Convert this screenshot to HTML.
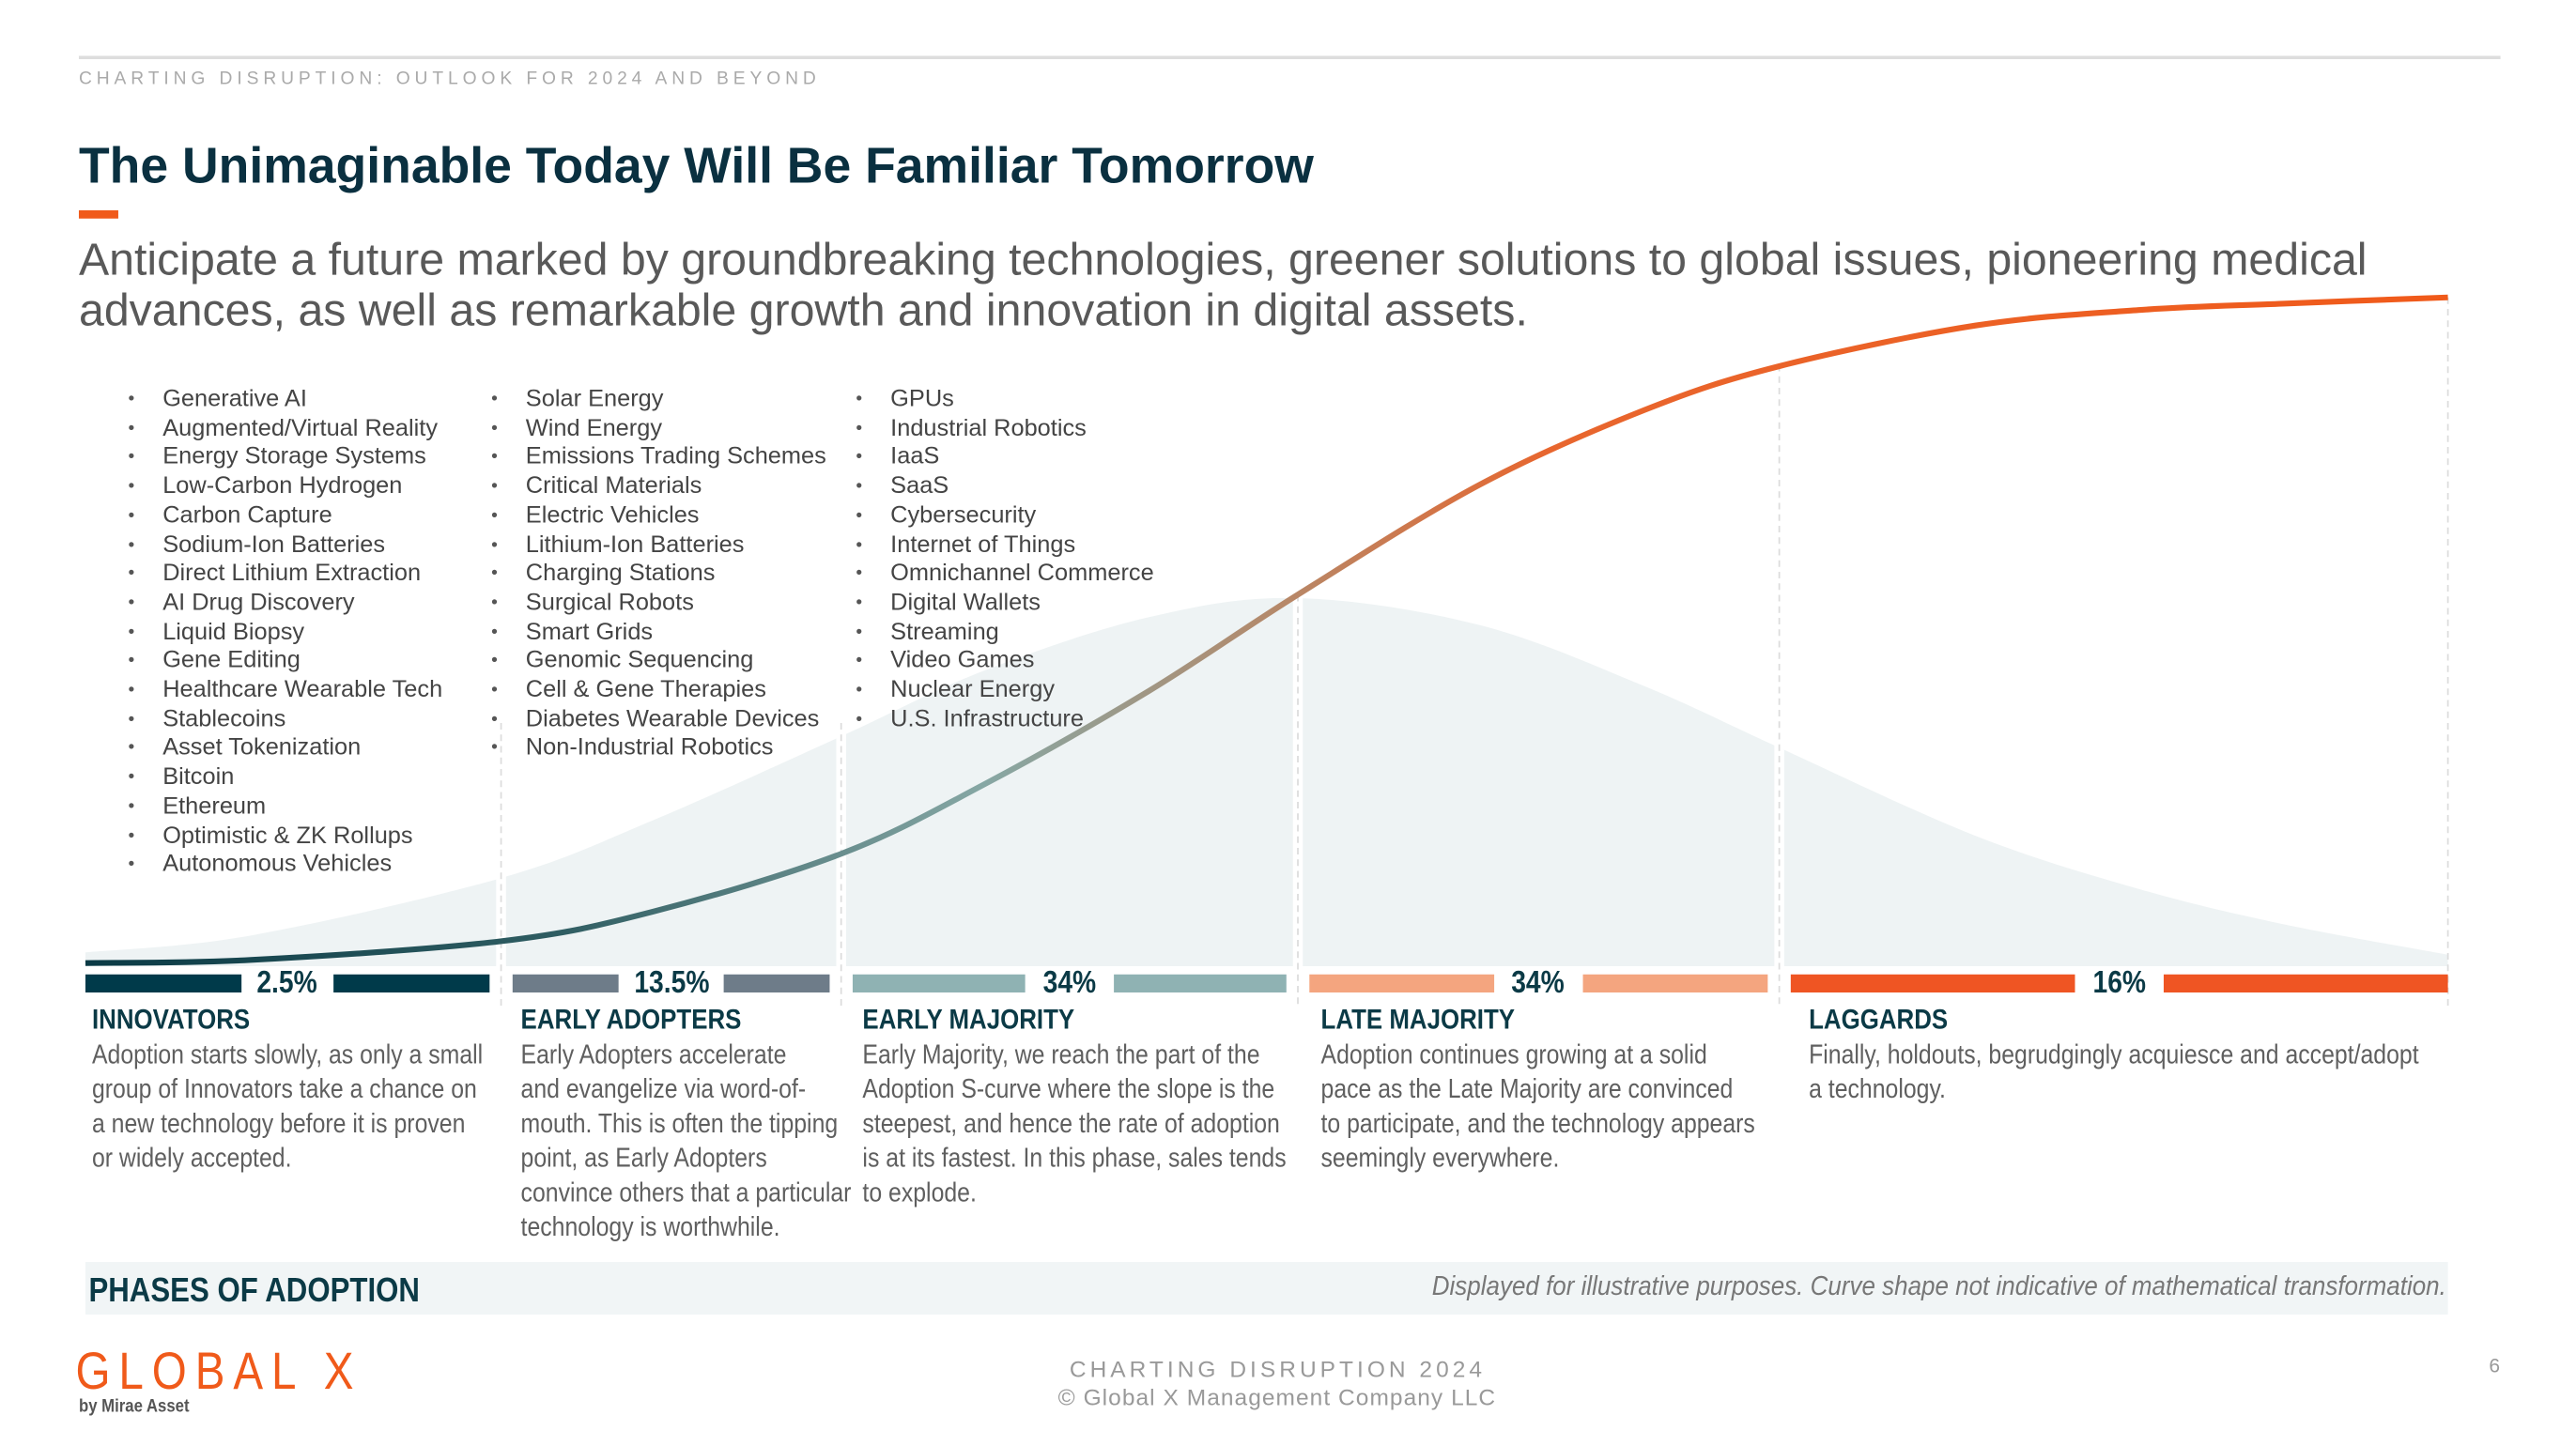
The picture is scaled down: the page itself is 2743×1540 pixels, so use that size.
<!DOCTYPE html>
<html><head><meta charset="utf-8">
<style>
html,body{margin:0;padding:0;background:#fff;}
body{width:2743px;height:1540px;overflow:hidden;position:relative;}
#wrap{position:absolute;left:0;top:0;width:1568px;height:880px;transform-origin:0 0;transform:scale(1.7494,1.75);font-family:"Liberation Sans",sans-serif;}
.abs{position:absolute;white-space:nowrap;}
.list{position:absolute;top:235px;font-size:14.5px;color:#444;line-height:17.7px;}
.list div{position:relative;padding-left:21px;}
.list div:before{content:"•";position:absolute;left:0;color:#555;font-size:11px;}
.nar{transform:scaleX(0.87);transform-origin:0 0;}
.ph{position:absolute;top:611px;font-size:17px;font-weight:bold;color:#0b3a46;white-space:nowrap;transform:scaleX(0.87);transform-origin:0 0;}
.desc{position:absolute;top:632px;font-size:16.5px;color:#5f5f5f;line-height:21.1px;white-space:nowrap;transform:scaleX(0.86);transform-origin:0 0;}
.pct{position:absolute;top:588px;font-size:19px;font-weight:bold;color:#0b3a46;}
.pct span{display:inline-block;transform:scaleX(0.85);}
</style></head>
<body>
<div id="wrap">
<div class="abs" style="left:48px;top:34px;width:1474px;height:2px;background:#ddd"></div>
<div class="abs" style="left:48px;top:42px;font-size:11px;letter-spacing:2.8px;color:#aaa">CHARTING DISRUPTION: OUTLOOK FOR 2024 AND BEYOND</div>
<div class="abs" style="left:48px;top:84px;font-size:30.6px;font-weight:bold;color:#0a3040">The Unimaginable Today Will Be Familiar Tomorrow</div>
<div class="abs" style="left:48px;top:128px;width:24px;height:5px;background:#f05a1a"></div>
<div class="abs" style="left:48px;top:142px;font-size:27.6px;color:#595959;line-height:31px">Anticipate a future marked by groundbreaking technologies, greener solutions to global issues, pioneering medical<br>advances, as well as remarkable growth and innovation in digital assets.</div>

<svg style="position:absolute;left:0;top:0" width="1568" height="880" viewBox="0 0 1568 880">
<defs><linearGradient id="sg" x1="52" x2="1490" y1="0" y2="0" gradientUnits="userSpaceOnUse">
<stop offset="0" stop-color="#0a3a45"/><stop offset="0.2" stop-color="#2f5d62"/><stop offset="0.38" stop-color="#86a7a4"/><stop offset="0.5" stop-color="#b38a6c"/><stop offset="0.62" stop-color="#e8662e"/><stop offset="1" stop-color="#f05a1a"/></linearGradient></defs>
<g id="bell"></g><g id="gaps"></g><g id="dashes"></g><path id="scurve" fill="none" stroke="url(#sg)" stroke-width="3.5"/><g id="bars"></g>
</svg>

<div class="list" style="left:78px">
<div>Generative AI</div><div>Augmented/Virtual Reality</div><div>Energy Storage Systems</div><div>Low-Carbon Hydrogen</div><div>Carbon Capture</div><div>Sodium-Ion Batteries</div><div>Direct Lithium Extraction</div><div>AI Drug Discovery</div><div>Liquid Biopsy</div><div>Gene Editing</div><div>Healthcare Wearable Tech</div><div>Stablecoins</div><div>Asset Tokenization</div><div>Bitcoin</div><div>Ethereum</div><div>Optimistic &amp; ZK Rollups</div><div>Autonomous Vehicles</div></div>
<div class="list" style="left:299px">
<div>Solar Energy</div><div>Wind Energy</div><div>Emissions Trading Schemes</div><div>Critical Materials</div><div>Electric Vehicles</div><div>Lithium-Ion Batteries</div><div>Charging Stations</div><div>Surgical Robots</div><div>Smart Grids</div><div>Genomic Sequencing</div><div>Cell &amp; Gene Therapies</div><div>Diabetes Wearable Devices</div><div>Non-Industrial Robotics</div></div>
<div class="list" style="left:521px">
<div>GPUs</div><div>Industrial Robotics</div><div>IaaS</div><div>SaaS</div><div>Cybersecurity</div><div>Internet of Things</div><div>Omnichannel Commerce</div><div>Digital Wallets</div><div>Streaming</div><div>Video Games</div><div>Nuclear Energy</div><div>U.S. Infrastructure</div></div>

<div id="labels"></div>

<div class="ph" style="left:56px">INNOVATORS</div>
<div class="ph" style="left:317px">EARLY ADOPTERS</div>
<div class="ph" style="left:525px">EARLY MAJORITY</div>
<div class="ph" style="left:804px">LATE MAJORITY</div>
<div class="ph" style="left:1101px">LAGGARDS</div>
<div class="desc" style="left:56px">Adoption starts slowly, as only a small<br>group of Innovators take a chance on<br>a new technology before it is proven<br>or widely accepted.</div>
<div class="desc" style="left:317px">Early Adopters accelerate<br>and evangelize via word-of-<br>mouth. This is often the tipping<br>point, as Early Adopters<br>convince others that a particular<br>technology is worthwhile.</div>
<div class="desc" style="left:525px">Early Majority, we reach the part of the<br>Adoption S-curve where the slope is the<br>steepest, and hence the rate of adoption<br>is at its fastest. In this phase, sales tends<br>to explode.</div>
<div class="desc" style="left:804px">Adoption continues growing at a solid<br>pace as the Late Majority are convinced<br>to participate, and the technology appears<br>seemingly everywhere.</div>
<div class="desc" style="left:1101px">Finally, holdouts, begrudgingly acquiesce and accept/adopt<br>a technology.</div>

<div class="abs" style="left:52px;top:768px;width:1438px;height:32px;background:#f1f5f6"></div>
<div class="abs nar" style="left:54px;top:774px;font-size:20.5px;font-weight:bold;color:#0b3a46">PHASES OF ADOPTION</div>
<div class="abs" style="right:79px;top:774px;font-size:16.5px;font-style:italic;color:#777;transform:scaleX(0.9);transform-origin:100% 0">Displayed for illustrative purposes. Curve shape not indicative of mathematical transformation.</div>

<div class="abs" style="left:46px;top:816px;font-size:32px;color:#f05a1a;letter-spacing:6px;transform:scaleX(0.85);transform-origin:0 0">GLOBAL X</div>
<div class="abs nar" style="left:48px;top:850px;font-size:11px;font-weight:bold;color:#555">by Mirae Asset</div>
<div class="abs" style="left:651px;top:825px;font-size:14px;letter-spacing:2.3px;color:#999">CHARTING DISRUPTION 2024</div>
<div class="abs" style="left:644px;top:842px;font-size:14px;letter-spacing:0.6px;color:#999">© Global X Management Company LLC</div>
<div class="abs" style="left:1515px;top:824px;font-size:12px;color:#999">6</div>
</div>

<script>
// phase data
const phaseNames = ['innovators','early-adopters','early-majority','late-majority','laggards'];
const phaseShares = [2.5, 13.5, 34, 34, 16];
const phaseLabels = ['2.5%','13.5%','34%','34%','16%'];
const phaseBounds = [52, 305, 512, 790, 1083, 1490];
const phaseColors = ['#003a4a','#6e7c89','#8fb2b3','#f4a57f','#ef5523'];
// curve readings: x in "adoption progress" units 0..100
const curveX = [0, 7, 17.6, 24, 32, 38, 45, 51.3, 59, 66, 71.7, 80, 87, 93, 100];
const sCurve = [0.5, 1, 4, 8.7, 18, 29, 44, 59.4, 77, 89, 96, 102.5, 105, 106, 107];
const bellCurve = [3.6, 8, 23, 38, 60, 77, 91, 96, 89, 73, 57, 34, 20, 11, 3];

const NS='http://www.w3.org/2000/svg';
const X0=52, X1=1490, BASE=588, TOP=181;
function xs(v){return X0+(X1-X0)*v/100;}
function ys(v){return BASE-(BASE-TOP)*v/107;}
function yb(v){return BASE-(BASE-364)*v/96;}
function smooth(pts){
  let d='M'+pts[0][0]+','+pts[0][1];
  for(let i=0;i<pts.length-1;i++){
    const p0=pts[i-1]||pts[i],p1=pts[i],p2=pts[i+1],p3=pts[i+2]||p2;
    d+=' C'+(p1[0]+(p2[0]-p0[0])/6)+','+(p1[1]+(p2[1]-p0[1])/6)+' '+(p2[0]-(p3[0]-p1[0])/6)+','+(p2[1]-(p3[1]-p1[1])/6)+' '+p2[0]+','+p2[1];
  }
  return d;
}
const bellPts=curveX.map((v,i)=>[xs(v),yb(bellCurve[i])]);
const bell=document.createElementNS(NS,'path');
bell.setAttribute('d',smooth(bellPts)+' L'+X1+','+BASE+' L'+X0+','+BASE+' Z');
bell.setAttribute('fill','#eef3f4');


document.getElementById('bell').appendChild(bell);

const sPts=curveX.map((v,i)=>[xs(v),ys(sCurve[i])]);
const sc=document.getElementById('scurve');
sc.setAttribute('d',smooth(sPts));



const gaps=document.getElementById('gaps'), dashes=document.getElementById('dashes'), bars=document.getElementById('bars');
for(let i=1;i<phaseBounds.length;i++){
  const bx=phaseBounds[i];
  if(i<phaseBounds.length-1){
    const g=document.createElementNS(NS,'rect');
    g.setAttribute('x',bx-3);g.setAttribute('y',300);g.setAttribute('width',6);g.setAttribute('height',290);g.setAttribute('fill','#fff');
    
    
    gaps.appendChild(g);
  }
  const l=document.createElementNS(NS,'line');
  l.setAttribute('x1',bx);l.setAttribute('x2',bx);l.setAttribute('y1',i===phaseBounds.length-1?181:(i>=3?(i===4?222:362):440));l.setAttribute('y2',612);
  l.setAttribute('stroke','#dcdcdc');l.setAttribute('stroke-dasharray','4 3');l.setAttribute('stroke-width','1');
  
  
  dashes.appendChild(l);
}
const labels=document.getElementById('labels');
const labelW=[48,56,46,46,46];
for(let i=0;i<phaseShares.length;i++){
  const a=phaseBounds[i]+(i?7:0), b=phaseBounds[i+1]-(i<4?7:0), mid=(a+b)/2, w=labelW[i];
  [[a,mid-w/2-4],[mid+w/2+4,b]].forEach(([s,e])=>{
    const r=document.createElementNS(NS,'rect');
    r.setAttribute('x',s);r.setAttribute('y',593);r.setAttribute('width',Math.max(0,e-s));r.setAttribute('height',11);r.setAttribute('fill',phaseColors[i]);
    
    
    bars.appendChild(r);
  });
  const t=document.createElement('div');
  t.className='pct';
  const sp=document.createElement('span');sp.textContent=phaseLabels[i];t.appendChild(sp);
  t.style.left=(mid-w/2)+'px';t.style.width=w+'px';t.style.textAlign='center';
  
  
  labels.appendChild(t);
}
</script>
</body></html>
